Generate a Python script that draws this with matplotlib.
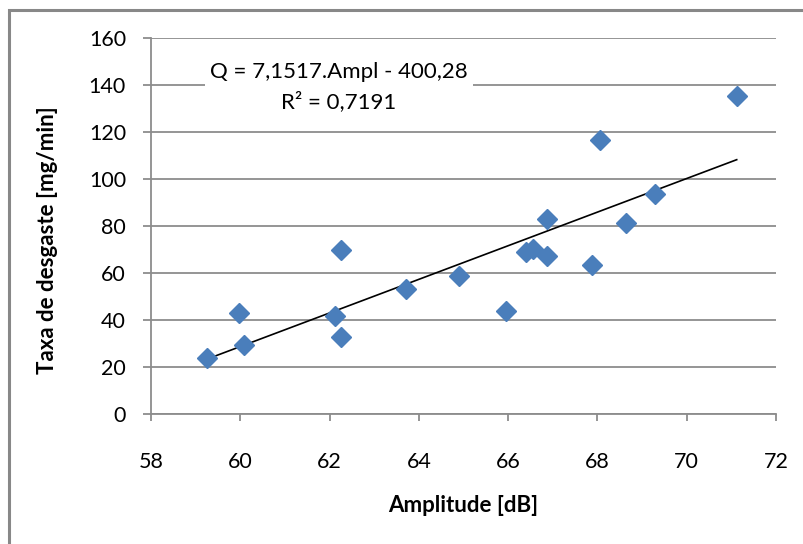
import matplotlib
matplotlib.use("Agg")
import matplotlib.pyplot as plt
from matplotlib.patches import Rectangle
import numpy as np

plt.rcParams['font.family'] = ['Lato', 'DejaVu Sans']

# Measured wear rate versus acoustic emission amplitude
amplitude = [59.26, 59.97, 60.09, 62.13, 62.26, 62.26, 63.72, 64.91, 65.96,
             66.39, 66.55, 66.88, 66.88, 67.87, 68.05, 68.63, 69.29, 71.12]
taxa = [23.8, 43.0, 29.4, 41.7, 69.8, 32.8, 53.2, 58.7, 43.8,
        69.0, 70.2, 83.0, 67.2, 63.4, 116.6, 81.3, 93.6, 135.3]

# Linear trend line coefficients
slope = 7.1517
intercept = -400.28
r2 = 0.7191

x_ticks = [58, 60, 62, 64, 66, 68, 70, 72]
y_ticks = [0, 20, 40, 60, 80, 100, 120, 140, 160]

W, H = 804, 544
fig = plt.figure(figsize=(W / 100, H / 100), dpi=100)
ax = fig.add_axes([151 / W, (H - 414.3) / H, (776 - 151) / W, (414.3 - 38.3) / H])

grid_c = '#8c8c8c'
ax.set_xlim(58, 72)
ax.set_ylim(0, 160)
ax.set_xticks(x_ticks)
ax.set_yticks(y_ticks)
ax.yaxis.grid(True, color=grid_c, linewidth=1.3)
ax.set_axisbelow(True)
for s in ('top', 'right'):
    ax.spines[s].set_visible(False)
for s in ('left', 'bottom'):
    ax.spines[s].set_color(grid_c)
    ax.spines[s].set_linewidth(1.3)
ax.tick_params(axis='y', direction='out', length=6, width=1.3, color=grid_c,
               labelsize=15.5, pad=12)
ax.tick_params(axis='x', direction='out', length=5, width=1.3, color=grid_c,
               labelsize=15.5, pad=22)

# Trend line over the span of the data
xl = np.array([min(amplitude), max(amplitude)])
ax.plot(xl, slope * xl + intercept, color='black', linewidth=1.2, zorder=3)

ax.plot(amplitude, taxa, linestyle='none', marker='D', markersize=10,
        color='#4a7ebb', markeredgecolor='#4a7ebb', zorder=4)

eq = "Q = 7,1517.Ampl - 400,28"
ax.text(62.21, 145.7, eq, ha='center', va='center', fontsize=16,
        bbox=dict(facecolor='white', edgecolor='none', pad=4), zorder=5)
ax.text(62.21, 132.9, f"R² = {r2:.4f}".replace('.', ','), ha='center', va='center',
        fontsize=16, zorder=5)

fig.text(463 / W, 1 - 505 / H, 'Amplitude [dB]', ha='center', va='center',
         fontsize=16, fontweight='bold')
fig.text(48 / W, 1 - 240 / H, 'Taxa de desgaste [mg/min]', ha='center', va='center',
         rotation=90, fontsize=16, fontweight='bold')

# Chart area border
fig.patches.append(Rectangle((9 / W, -0.1), 1.2, 1.1 - 10 / H,
                             transform=fig.transFigure, fill=False,
                             edgecolor='#888888', linewidth=2.2))

fig.savefig('out.png', dpi=100)
